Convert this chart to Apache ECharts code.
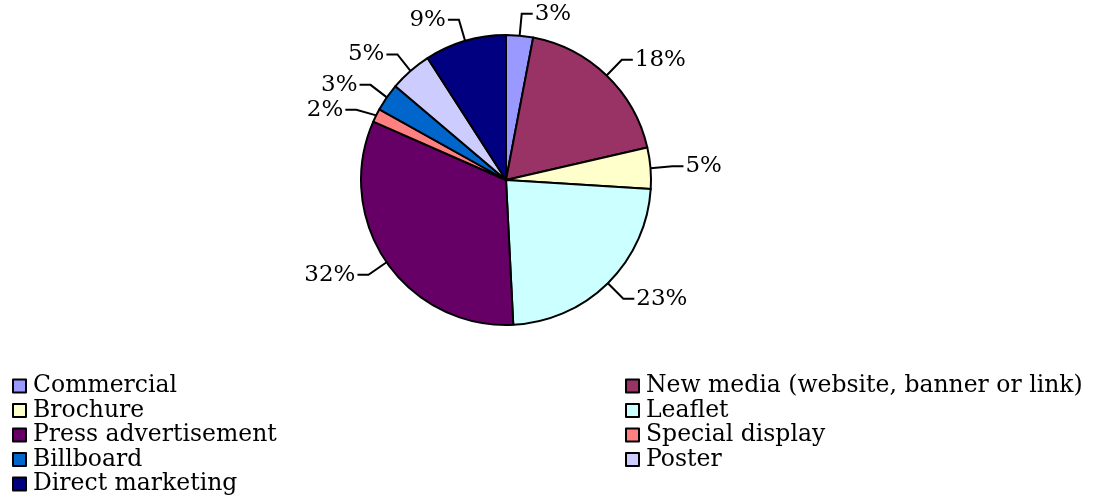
<!DOCTYPE html>
<html><head><meta charset="utf-8">
<script src="https://cdn.jsdelivr.net/npm/echarts@6/dist/echarts.min.js"></script>
<style>html,body{margin:0;padding:0;background:#fff}#c{width:1094px;height:501px}</style>
</head><body><div id="c"></div>
<script>
const categories = ['Commercial','New media (website, banner or link)','Brochure','Leaflet','Press advertisement','Special display','Billboard','Poster','Direct marketing'];
const values = [3.0, 18.4, 4.6, 23.2, 32.4, 1.5, 3.1, 4.7, 9.1];
const colors = ['#9999FF','#993366','#FFFFCC','#CCFFFF','#660066','#FF8080','#0066CC','#CCCCFF','#000080'];
const legendLeft = ['Commercial','Brochure','Press advertisement','Billboard','Direct marketing'];
const legendRight = ['New media (website, banner or link)','Leaflet','Special display','Poster'];

const FONT = 'DejaVu Serif';
const chart = echarts.init(document.getElementById('c'));
const legendCommon = {
  orient: 'vertical', icon: 'rect', itemWidth: 13, itemHeight: 13, itemGap: 0.5,
  itemStyle: { borderColor: '#000', borderWidth: 2 },
  textStyle: { fontFamily: FONT, fontSize: 23.5, color: '#000', padding: [0,0,0,2], lineHeight: 24 },
  padding: 0, selectedMode: false
};
chart.setOption({
  animation: false,
  color: colors,
  legend: [
    Object.assign({}, legendCommon, { data: legendLeft, left: 12, top: 374 }),
    Object.assign({}, legendCommon, { data: legendRight, left: 625, top: 374 })
  ],
  series: [{
    type: 'pie',
    center: [506, 180],
    radius: 145,
    startAngle: 90,
    clockwise: true,
    avoidLabelOverlap: true,
    minShowLabelAngle: 0,
    labelLayout: { hideOverlap: false },
    data: categories.map((n, i) => ({ name: n, value: values[i] })),
    itemStyle: { borderColor: '#000', borderWidth: 2 },
    label: {
      show: true,
      formatter: p => Math.round(p.percent) + '%',
      fontFamily: FONT, fontSize: 23, color: '#000', distanceToLabelLine: 2
    },
    labelLine: { show: true, length: 22, length2: 11, lineStyle: { color: '#000', width: 2 } }
  }]
});
</script></body></html>
